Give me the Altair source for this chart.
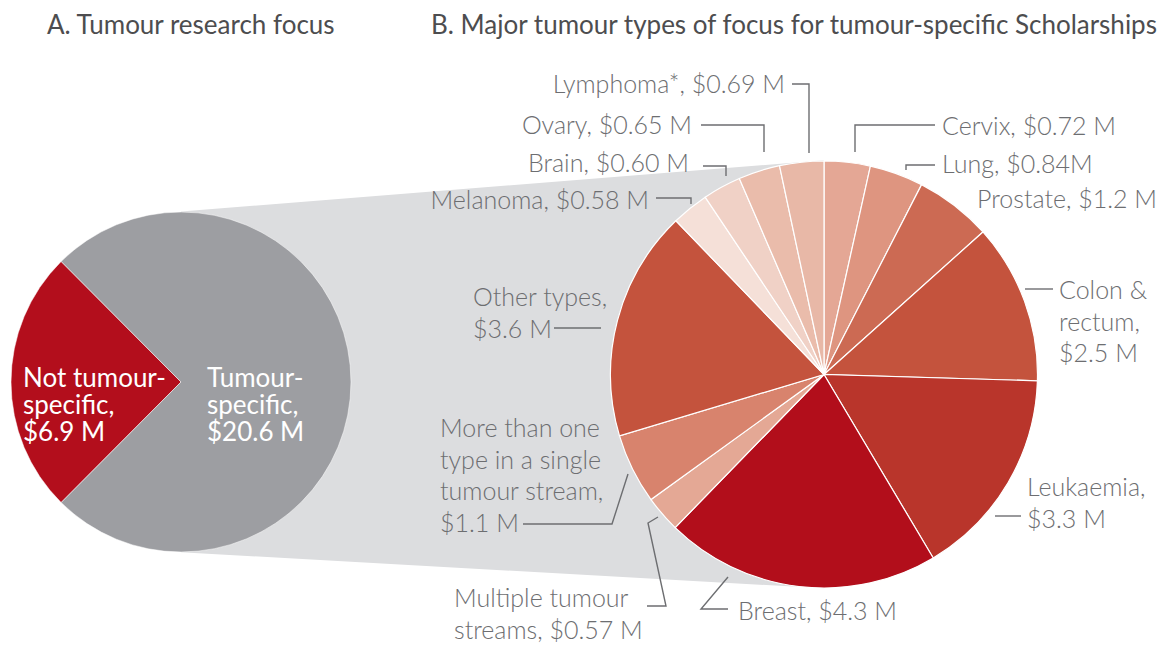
import math
import altair as alt
import pandas as pd

W, H = 1158, 640
OFF = 8  # page margin: image coords -> view coords

FONT = "Lato"
LABEL_GREY = "#6D6E71"
TITLE_GREY = "#4D4D4F"

# ---------------- Panel A data ----------------
a_names = ["Not tumour-specific", "Tumour-specific"]
a_values = [6.9, 20.6]
a_colors = ["#B30E1C", "#9D9EA2"]
a_label_lines = [["Not tumour-", "specific,", "$6.9 M"], ["Tumour-", "specific,", "$20.6 M"]]

# ---------------- Panel B data ----------------
b_names = ["Cervix", "Lung", "Prostate", "Colon & rectum", "Leukaemia", "Breast",
           "Multiple tumour streams", "More than one type in a single tumour stream",
           "Other types", "Melanoma", "Brain", "Ovary", "Lymphoma*"]
b_values = [0.72, 0.84, 1.2, 2.5, 3.3, 4.3, 0.57, 1.1, 3.6, 0.58, 0.60, 0.65, 0.69]
b_colors = ["#E4A795", "#DE9580", "#CC6A53", "#C4533D", "#B9352B", "#B20E1B",
            "#E4A895", "#D8836D", "#C4533D", "#F5E0D8", "#F0D1C6", "#EABCAB", "#E8B8A7"]
b_label_lines = [["Cervix, $0.72 M"], ["Lung, $0.84M"], ["Prostate, $1.2 M"],
                 ["Colon &", "rectum,", "$2.5 M"], ["Leukaemia,", "$3.3 M"], ["Breast, $4.3 M"],
                 ["Multiple tumour", "streams, $0.57 M"],
                 ["More than one", "type in a single", "tumour stream,", "$1.1 M"],
                 ["Other types,", "$3.6 M"], ["Melanoma, $0.58 M"], ["Brain, $0.60 M"],
                 ["Ovary, $0.65 M"], ["Lymphoma*, $0.69 M"]]

titles = ["A. Tumour research focus",
          "B. Major tumour types of focus for tumour-specific Scholarships"]

# ---------------- layout (image pixel coordinates) ----------------
A_C, A_R = (181.0, 382.0), 170.0
B_C, B_R = (824.0, 374.5), 213.5
title_pos = [(47, 34), (431, 34)]
a_label_pos = [(23, 387), (207, 387)]
a_line_h = 26.8
# (x, first baseline, align)
b_label_pos = [(942, 135, "left"), (942, 173, "left"), (977, 208, "left"),
               (1059, 299, "left"), (1027, 496, "left"), (738, 620, "left"),
               (454, 607, "left"), (440, 437, "left"), (473, 306, "left"),
               (649, 209, "right"), (689, 172, "right"), (692, 134, "right"),
               (785, 93, "right")]
b_line_h = 31.5
leaders = [
    [(935, 125), (855, 125), (855, 152)],
    [(935, 165), (906, 165), (906, 170)],
    [],
    [(1053, 289), (1025, 289)],
    [(1021, 516), (995, 516)],
    [(728, 577), (701, 609), (728, 609)],
    [(658, 517), (648, 523), (666, 606), (647, 606)],
    [(628, 474), (612, 524), (523, 524)],
    [(554, 328), (601, 328)],
    [(656, 198), (691, 198), (691, 204)],
    [(703, 166), (726, 166), (726, 176)],
    [(701, 125), (764, 125), (764, 152)],
    [(792, 84), (809, 84), (809, 153)],
]

# ---------------- scales ----------------
xs = alt.Scale(domain=[0, W], range=[0, W], nice=False, zero=False)
ys = alt.Scale(domain=[0, H], range=[0, H], nice=False, zero=False)


def X(v):
    return v - OFF


def Y(v):
    return v - OFF


# ---------------- connector (convex hull between the two pies) ----------------
dx, dy = B_C[0] - A_C[0], B_C[1] - A_C[1]
dist = math.hypot(dx, dy)
phi = math.atan2(dy, dx)
beta = math.acos((A_R - B_R) / dist)


def tangent(psi):
    n = (math.cos(psi), math.sin(psi))
    pa = (A_C[0] + A_R * n[0], A_C[1] + A_R * n[1])
    pb = (B_C[0] + B_R * n[0], B_C[1] + B_R * n[1])
    return pa, pb


def line_y(p, q, x):
    return p[1] + (q[1] - p[1]) * (x - p[0]) / (q[0] - p[0])


top = tangent(phi - beta)
bot = tangent(phi + beta)
conn = pd.DataFrame({
    "x": [X(A_C[0]), X(B_C[0])],
    "y": [Y(line_y(*top, A_C[0])), Y(line_y(*top, B_C[0]))],
    "y2": [Y(line_y(*bot, A_C[0])), Y(line_y(*bot, B_C[0]))],
})
connector = alt.Chart(conn).mark_area(color="#DCDDDF", opacity=1).encode(
    x=alt.X("x:Q", scale=xs, axis=None),
    y=alt.Y("y:Q", scale=ys, axis=None),
    y2="y2:Q",
)

# ---------------- pie A ----------------
red_frac = a_values[0] / sum(a_values)
start = 1.5 * math.pi - red_frac * math.pi  # red wedge centred on the left
dfa = pd.DataFrame({"name": a_names, "value": a_values, "idx": [0, 1]})
pie_a = alt.Chart(dfa).mark_arc(radius=A_R, stroke="white", strokeWidth=0.5).encode(
    theta=alt.Theta("value:Q", stack=True,
                    scale=alt.Scale(range=[start, start + 2 * math.pi])),
    color=alt.Color("name:N", scale=alt.Scale(domain=a_names, range=a_colors), legend=None),
    order=alt.Order("idx:Q"),
    x=alt.value(X(A_C[0])),
    y=alt.value(Y(A_C[1])),
)

# ---------------- pie B ----------------
dfb = pd.DataFrame({"name": b_names, "value": b_values, "idx": list(range(len(b_names)))})
pie_b = alt.Chart(dfb).mark_arc(radius=B_R, stroke="white", strokeWidth=1.2).encode(
    theta=alt.Theta("value:Q", stack=True, scale=alt.Scale(range=[0, 2 * math.pi])),
    color=alt.Color("name:N", scale=alt.Scale(domain=b_names, range=b_colors), legend=None),
    order=alt.Order("idx:Q"),
    x=alt.value(X(B_C[0])),
    y=alt.value(Y(B_C[1])),
)

# ---------------- texts ----------------
rows = []
for lines, (x0, y0) in zip(a_label_lines, a_label_pos):
    for i, t in enumerate(lines):
        rows.append({"x": X(x0), "y": Y(y0 + i * a_line_h), "text": t})
a_text = alt.Chart(pd.DataFrame(rows)).mark_text(
    font=FONT, fontSize=26, color="white", align="left", baseline="alphabetic"
).encode(x=alt.X("x:Q", scale=xs), y=alt.Y("y:Q", scale=ys), text="text:N")

b_rows = []
for lines, (x0, y0, al) in zip(b_label_lines, b_label_pos):
    for i, t in enumerate(lines):
        b_rows.append({"x": X(x0), "y": Y(y0 + i * b_line_h), "text": t, "align": al})
bdf = pd.DataFrame(b_rows)
b_text_layers = []
for al in ["left", "right"]:
    b_text_layers.append(
        alt.Chart(bdf[bdf["align"] == al]).mark_text(
            font=FONT, fontSize=25, fontWeight=300, color=LABEL_GREY, align=al,
            baseline="alphabetic"
        ).encode(x=alt.X("x:Q", scale=xs), y=alt.Y("y:Q", scale=ys), text="text:N")
    )

t_rows = [{"x": X(x), "y": Y(y), "text": t} for t, (x, y) in zip(titles, title_pos)]
title_text = alt.Chart(pd.DataFrame(t_rows)).mark_text(
    font=FONT, fontSize=26, color=TITLE_GREY, align="left", baseline="alphabetic"
).encode(x=alt.X("x:Q", scale=xs), y=alt.Y("y:Q", scale=ys), text="text:N")

# ---------------- leader lines ----------------
l_rows = []
for k, pts in enumerate(leaders):
    for j, (x, y) in enumerate(pts):
        l_rows.append({"id": k, "o": j, "x": X(x), "y": Y(y)})
leader = alt.Chart(pd.DataFrame(l_rows)).mark_line(
    color=LABEL_GREY, strokeWidth=1.4, interpolate="linear"
).encode(
    x=alt.X("x:Q", scale=xs), y=alt.Y("y:Q", scale=ys),
    detail="id:N", order="o:Q",
)

chart = alt.layer(
    connector, pie_a, pie_b, leader, a_text, *b_text_layers, title_text
).resolve_scale(theta="independent", color="independent").properties(
    width=W, height=H, padding=0,
    autosize=alt.AutoSizeParams(type="none"),
).configure_view(stroke=None)

chart.save("out.html", embed_options={"renderer": "svg", "actions": False})
